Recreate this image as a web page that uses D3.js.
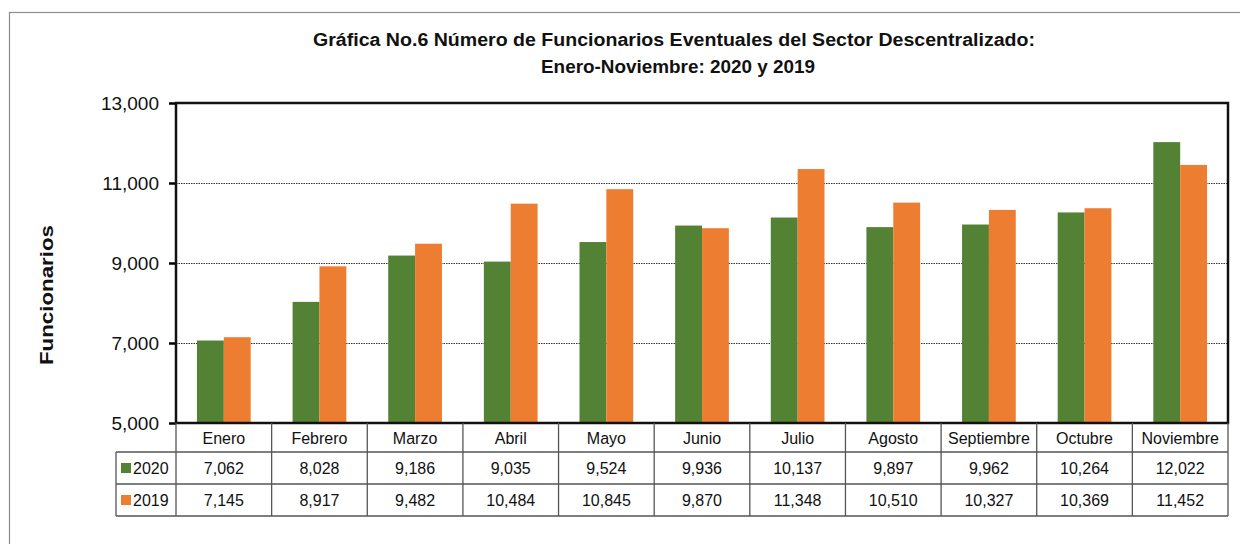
<!DOCTYPE html>
<html>
<head>
<meta charset="utf-8">
<script src="https://cdn.jsdelivr.net/npm/d3@7"></script>
<style>
  body { margin: 0; background: #fff; }
  svg { display: block; font-family: "Liberation Sans", Arial, sans-serif; }
</style>
</head>
<body>
<svg id="svg" width="1240" height="544"></svg>
<script>
"use strict";

const months = ["Enero", "Febrero", "Marzo", "Abril", "Mayo", "Junio", "Julio", "Agosto", "Septiembre", "Octubre", "Noviembre"];
const series = ["2020", "2019"];
const values2020 = [7062, 8028, 9186, 9035, 9524, 9936, 10137, 9897, 9962, 10264, 12022];
const values2019 = [7145, 8917, 9482, 10484, 10845, 9870, 11348, 10510, 10327, 10369, 11452];
const yTicks = [5000, 7000, 9000, 11000, 13000];
const colors = ["#548235", "#ED7D31"];

const plotLeft = 176, plotRight = 1228, plotTop = 103, plotBottom = 423;
const rowH = [29, 32, 32];
const legendLeft = 116;

var svg = d3.select("svg");
var fmt = d3.format(",");
var data = [values2020, values2019];

// outer frame
svg.append("rect")
    .attr("x", 9.5).attr("y", 12.5)
    .attr("width", 1260).attr("height", 560)
    .attr("fill", "none").attr("stroke", "#8c8c8c").attr("stroke-width", 1.2);

// title (source text is slightly stretched, so fit the widths)
var title = svg.append("g")
    .attr("text-anchor", "middle")
    .attr("font-weight", "bold")
    .attr("font-size", 18)
    .attr("fill", "#111");
title.append("text").attr("x", 674).attr("y", 46)
    .attr("textLength", 722).attr("lengthAdjust", "spacingAndGlyphs")
    .text("Gráfica No.6 Número de Funcionarios Eventuales del Sector Descentralizado:");
title.append("text").attr("x", 678).attr("y", 73)
    .attr("textLength", 274).attr("lengthAdjust", "spacingAndGlyphs")
    .text("Enero-Noviembre: 2020 y 2019");

var x = d3.scaleBand().domain(months).range([plotLeft, plotRight]);
var x1 = d3.scaleBand().domain(series).range([0, x.bandwidth()]).paddingOuter(0.78);
var y = d3.scaleLinear().domain([5000, 13000]).range([plotBottom, plotTop]);

// gridlines
svg.append("g")
    .selectAll("line")
    .data(yTicks.filter(d => d > 5000 && d < 13000))
    .join("line")
        .attr("x1", plotLeft).attr("x2", plotRight)
        .attr("y1", d => y(d) + 0.5).attr("y2", d => y(d) + 0.5)
        .attr("stroke", "#333").attr("stroke-width", 1)
        .attr("stroke-dasharray", "1.5,1");

// bars
svg.append("g")
    .selectAll("g")
    .data(months)
    .join("g")
        .attr("transform", d => "translate(" + x(d) + ",0)")
    .selectAll("rect")
    .data((d, i) => series.map((s, k) => ({ s: s, k: k, v: data[k][i] })))
    .join("rect")
        .attr("x", d => x1(d.s))
        .attr("width", x1.bandwidth())
        .attr("y", d => y(d.v))
        .attr("height", d => plotBottom - y(d.v))
        .attr("fill", d => colors[d.k]);

// y axis
var yAxis = svg.append("g")
    .attr("transform", "translate(" + plotLeft + ",0)")
    .call(d3.axisLeft(y).tickValues(yTicks).tickFormat(fmt).tickSize(7).tickPadding(10));
yAxis.select(".domain").remove();
yAxis.selectAll(".tick line").attr("stroke", "#000").attr("stroke-width", 2.5);
yAxis.selectAll(".tick text")
    .attr("font-size", 19)
    .attr("font-family", "Liberation Sans, Arial, sans-serif")
    .attr("fill", "#111");

// plot border
svg.append("rect")
    .attr("x", plotLeft).attr("y", plotTop)
    .attr("width", plotRight - plotLeft).attr("height", plotBottom - plotTop)
    .attr("fill", "none").attr("stroke", "#111").attr("stroke-width", 2.5);

// data table
var r0 = plotBottom, r1 = r0 + rowH[0], r2 = r1 + rowH[1], r3 = r2 + rowH[2];
var table = svg.append("g").attr("stroke", "#555").attr("stroke-width", 1.3).attr("fill", "none");
table.append("line").attr("x1", legendLeft).attr("x2", plotRight).attr("y1", r1).attr("y2", r1);
table.append("line").attr("x1", legendLeft).attr("x2", plotRight).attr("y1", r2).attr("y2", r2);
table.append("line").attr("x1", legendLeft).attr("x2", plotRight).attr("y1", r3).attr("y2", r3);
table.append("line").attr("x1", legendLeft).attr("x2", legendLeft).attr("y1", r1).attr("y2", r3);
table.selectAll(".col")
    .data(months.map(m => x(m)).concat([plotRight]))
    .join("line")
        .attr("class", "col")
        .attr("x1", d => d).attr("x2", d => d)
        .attr("y1", r0).attr("y2", r3);

svg.append("g")
    .selectAll("text")
    .data(months)
    .join("text")
        .attr("x", d => x(d) + x.bandwidth() / 2)
        .attr("y", r0 + 21)
        .attr("text-anchor", "middle")
        .attr("font-size", 16)
        .attr("fill", "#111")
        .text(d => d);

var rowsY = [r1, r2];
series.forEach(function(s, k) {
    var g = svg.append("g");
    g.append("rect")
        .attr("x", 121).attr("y", rowsY[k] + 11)
        .attr("width", 10).attr("height", 10)
        .attr("fill", colors[k]);
    g.append("text")
        .attr("x", 133).attr("y", rowsY[k] + 22)
        .attr("font-size", 16).attr("fill", "#111")
        .text(s);
    g.selectAll(".val")
        .data(data[k])
        .join("text")
            .attr("class", "val")
            .attr("x", (d, i) => x(months[i]) + x.bandwidth() / 2)
            .attr("y", rowsY[k] + 22)
            .attr("text-anchor", "middle")
            .attr("font-size", 16)
            .attr("fill", "#111")
            .text(d => fmt(d));
});

// y title
svg.append("text")
    .attr("transform", "translate(53,295) rotate(-90)")
    .attr("text-anchor", "middle")
    .attr("font-weight", "bold")
    .attr("font-size", 18)
    .attr("textLength", 140)
    .attr("lengthAdjust", "spacingAndGlyphs")
    .attr("fill", "#111")
    .text("Funcionarios");
</script>
</body>
</html>
